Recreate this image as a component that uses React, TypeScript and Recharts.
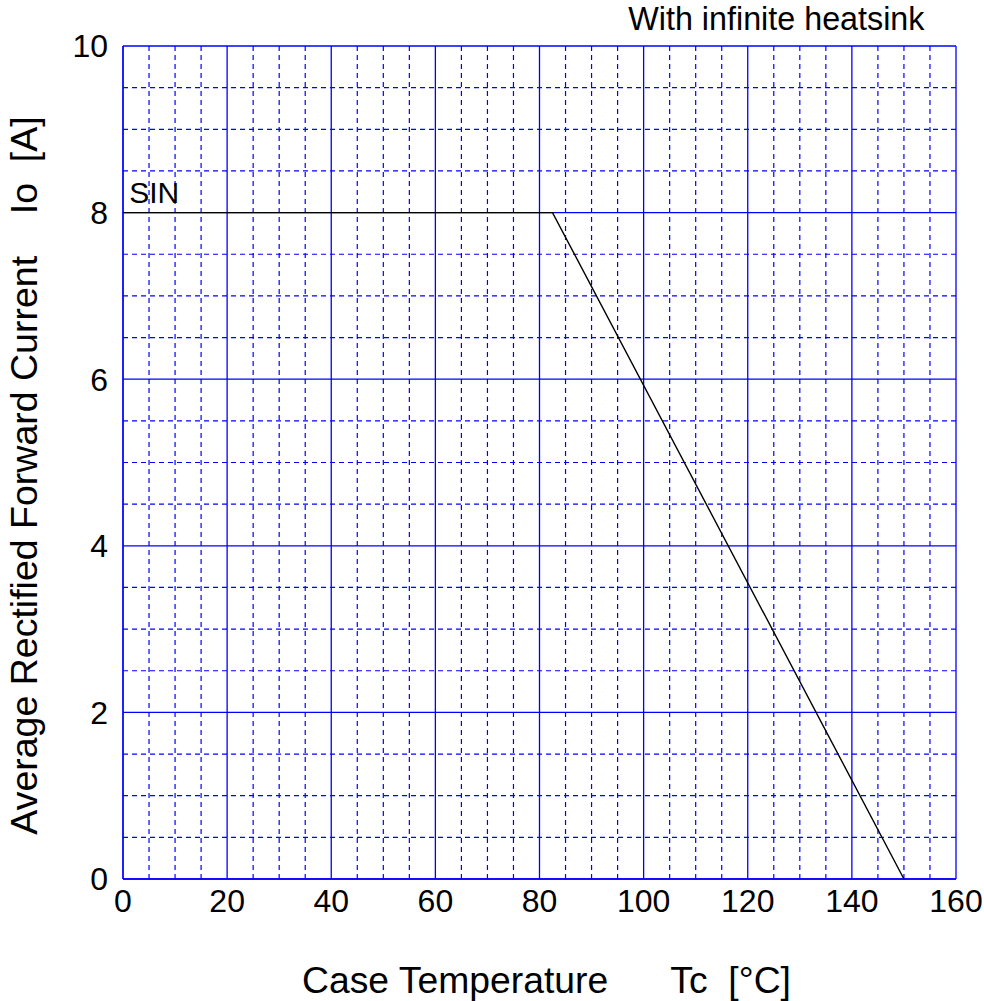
import { LineChart, Line, XAxis, YAxis, ReferenceLine, ReferenceDot, Label } from 'recharts'

// derating curve: Io vs case temperature
const temps = [0, 82.5, 150]
const currents = [8, 8, 0]

const xTicks = [0, 20, 40, 60, 80, 100, 120, 140, 160]
const yTicks = [0, 2, 4, 6, 8, 10]
const xMinor = [5, 10, 15, 25, 30, 35, 45, 50, 55, 65, 70, 75, 85, 90, 95, 105, 110, 115, 125, 130, 135, 145, 150, 155]
const yMinor = [0.5, 1, 1.5, 2.5, 3, 3.5, 4.5, 5, 5.5, 6.5, 7, 7.5, 8.5, 9, 9.5]

const data = temps.map((t, i) => ({ t, io: currents[i] }))

const BLUE = '#0000ff'
const FONT = '"Liberation Sans", Arial, sans-serif'
const tickStyle = { fontSize: 32, fill: '#000', fontFamily: FONT }
const sp = (n: number) => '\u00a0'.repeat(n)

const App = () => {
  return (
    <div style={{ position: 'fixed', top: 0, left: 0, width: 984, height: 1001, background: '#fff' }}>
      <LineChart
        width={984}
        height={1001}
        data={data}
        margin={{ top: 46, right: 28, left: 0, bottom: 62 }}
      >
        <XAxis
          type="number"
          dataKey="t"
          domain={[0, 160]}
          ticks={xTicks}
          tick={tickStyle}
          tickLine={false}
          tickMargin={4}
          axisLine={{ stroke: BLUE, strokeWidth: 1.3 }}
          height={60}
        >
          <Label
            content={(props: any) => {
              const vb = props.viewBox
              return (
                <text
                  x={vb.x + vb.width / 2 + 7}
                  y={vb.y + 114}
                  textAnchor="middle"
                  style={{ fontSize: 37.3, fill: '#000', fontFamily: FONT }}
                >
                  {'Case Temperature' + sp(6) + 'Tc' + sp(2) + '[°C]'}
                </text>
              )
            }}
          />
        </XAxis>
        <YAxis
          type="number"
          domain={[0, 10]}
          ticks={yTicks}
          tick={tickStyle}
          tickLine={false}
          tickMargin={9}
          axisLine={{ stroke: BLUE, strokeWidth: 1.3 }}
          width={123}
        >
          <Label
            content={(props: any) => {
              const vb = props.viewBox
              const x = vb.x + 37
              const y = vb.y + vb.height / 2 + 13
              return (
                <text
                  x={x}
                  y={y}
                  transform={`rotate(-90, ${x}, ${y})`}
                  textAnchor="middle"
                  style={{ fontSize: 37.5, fill: '#000', fontFamily: FONT }}
                >
                  {'Average Rectified Forward Current' + sp(4) + 'Io' + sp(2) + '[A]'}
                </text>
              )
            }}
          />
        </YAxis>

        {xMinor.map((v) => (
          <ReferenceLine key={'xm' + v} x={v} stroke={BLUE} strokeWidth={1.2} strokeDasharray="5 4" />
        ))}
        {yMinor.map((v) => (
          <ReferenceLine key={'ym' + v} y={v} stroke={BLUE} strokeWidth={1.2} strokeDasharray="5 4" />
        ))}
        {xTicks.map((v) => (
          <ReferenceLine key={'xM' + v} x={v} stroke={BLUE} strokeWidth={1.3} />
        ))}
        {yTicks.map((v) => (
          <ReferenceLine key={'yM' + v} y={v} stroke={BLUE} strokeWidth={1.3} />
        ))}

        <Line
          type="linear"
          dataKey="io"
          stroke="#000"
          strokeWidth={1.4}
          dot={false}
          isAnimationActive={false}
        />

        <ReferenceDot
          x={6}
          y={8}
          r={0}
          fill="none"
          stroke="none"
          label={{ value: 'SIN', position: 'top', offset: 10, style: { fontSize: 30, fill: '#000', fontFamily: FONT } }}
        />
        <ReferenceDot
          x={125.5}
          y={10}
          r={0}
          fill="none"
          stroke="none"
          label={{ value: 'With infinite heatsink', position: 'top', offset: 16, style: { fontSize: 32.3, fill: '#000', fontFamily: FONT } }}
        />
      </LineChart>
    </div>
  )
}

export default App
